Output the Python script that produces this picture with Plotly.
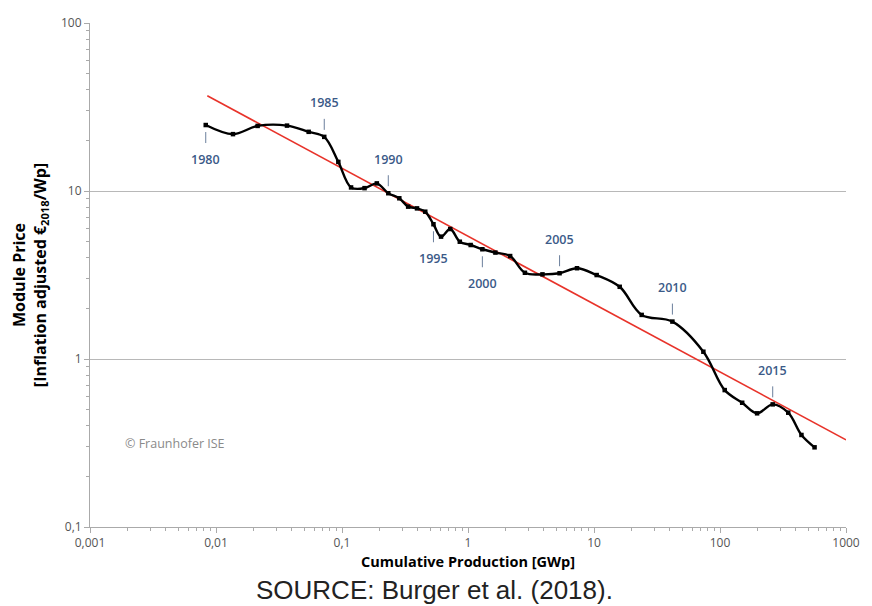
import math
import plotly.graph_objects as go

# Annual module price vs. cumulative PV production, 1980-2018
years = list(range(1980, 2019))
cum_production_gwp = [
    0.00829, 0.01364, 0.0214, 0.0366, 0.0544, 0.0723, 0.0935, 0.118, 0.151, 0.189,
    0.233, 0.285, 0.335, 0.394, 0.458, 0.532, 0.611, 0.723, 0.861, 1.05,
    1.30, 1.65, 2.16, 2.83, 3.90, 5.33, 7.33, 10.5, 16.0, 23.9,
    41.9, 73.8, 109, 150, 197, 262, 348, 443, 563,
]
module_price = [
    24.7, 21.8, 24.4, 24.5, 22.5, 21.0, 14.9, 10.5, 10.4, 11.1,
    9.7, 9.05, 8.07, 7.88, 7.53, 6.34, 5.35, 5.94, 4.99, 4.77,
    4.50, 4.30, 4.10, 3.26, 3.19, 3.24, 3.47, 3.16, 2.69, 1.83,
    1.67, 1.105, 0.653, 0.549, 0.475, 0.537, 0.479, 0.353, 0.298,
]

# Learning-curve trend line (end points)
trend_x = [0.00853, 1000]
trend_y = [36.9, 0.33]

# Years marked on the curve; +1 = label below the point, -1 = above
labeled_years = [1980, 1985, 1990, 1995, 2000, 2005, 2010, 2015]
label_side = [1, -1, -1, 1, 1, -1, -1, -1]

x_tickvals = [0.001, 0.01, 0.1, 1, 10, 100, 1000]
x_ticktext = ["0,001", "0,01", "0,1", "1", "10", "100", "1000"]
y_tickvals = [0.1, 1, 10, 100]
y_ticktext = ["0,1", "1", "10", "100"]

FONT = "Open Sans"
AXIS_GREY = "#aaaaaa"
YEAR_BLUE = "#3b5a88"

fig = go.Figure()

fig.add_trace(go.Scatter(
    x=trend_x, y=trend_y, mode="lines",
    line=dict(color="#e8332a", width=1.6),
    hoverinfo="skip", showlegend=False,
))

fig.add_trace(go.Scatter(
    x=cum_production_gwp, y=module_price, mode="lines+markers",
    line=dict(color="black", width=2.4, shape="spline", smoothing=1),
    marker=dict(symbol="square", size=4.5, color="black"),
    text=[str(y) for y in years], showlegend=False,
))

annotations = []
for yr, side in zip(labeled_years, label_side):
    i = years.index(yr)
    annotations.append(dict(
        x=math.log10(cum_production_gwp[i]), y=math.log10(module_price[i]),
        xref="x", yref="y", text=str(yr),
        showarrow=True, arrowhead=0, arrowwidth=1, arrowcolor="#6b7f9c",
        ax=0, ay=34 * side, standoff=7, startstandoff=6,
        font=dict(family=FONT, size=12.5, color=YEAR_BLUE, weight=600),
    ))

annotations.append(dict(
    x=0.044, y=0.165, xref="paper", yref="paper", xanchor="left", yanchor="middle",
    text="© Fraunhofer ISE", showarrow=False,
    font=dict(family=FONT, size=12.5, color="#8a8a8a"),
))
annotations.append(dict(
    x=0.456, y=-0.125, xref="paper", yref="paper", xanchor="center", yanchor="middle",
    text="SOURCE: Burger et al. (2018).", showarrow=False,
    font=dict(family="Liberation Sans", size=26, color="#222222"),
))

fig.update_layout(
    width=872, height=606,
    margin=dict(l=90, r=17, t=23, b=79),
    paper_bgcolor="white", plot_bgcolor="white",
    font=dict(family=FONT, color="#555555"),
    annotations=annotations,
    xaxis=dict(
        type="log", range=[-3, 3],
        tickmode="array", tickvals=x_tickvals, ticktext=x_ticktext,
        ticks="outside", ticklen=5, tickcolor=AXIS_GREY, tickwidth=1,
        tickfont=dict(size=12, color="#555555"),
        showline=True, linecolor=AXIS_GREY, linewidth=1,
        showgrid=False, zeroline=False,
        minor=dict(ticks="outside", ticklen=3, tickcolor=AXIS_GREY, dtick="D1", showgrid=False),
        title=dict(text="<b>Cumulative Production [GWp]</b>",
                   font=dict(family=FONT, size=14.5, color="black"), standoff=6),
    ),
    yaxis=dict(
        type="log", range=[-1, 2],
        tickmode="array", tickvals=y_tickvals, ticktext=y_ticktext,
        ticks="outside", ticklen=5, tickcolor=AXIS_GREY, tickwidth=1,
        tickfont=dict(size=12, color="#555555"),
        showline=True, linecolor=AXIS_GREY, linewidth=1,
        showgrid=True, gridcolor="#b8b8b8", gridwidth=1, zeroline=False,
        minor=dict(ticks="outside", ticklen=3, tickcolor=AXIS_GREY, dtick="D1", showgrid=False),
        title=dict(text="<b>Module Price</b><br><b>[Inflation adjusted €<sub>2018</sub>/Wp]</b>",
                   font=dict(family=FONT, size=16, color="black"), standoff=10),
    ),
)

fig.write_html("out.html")
